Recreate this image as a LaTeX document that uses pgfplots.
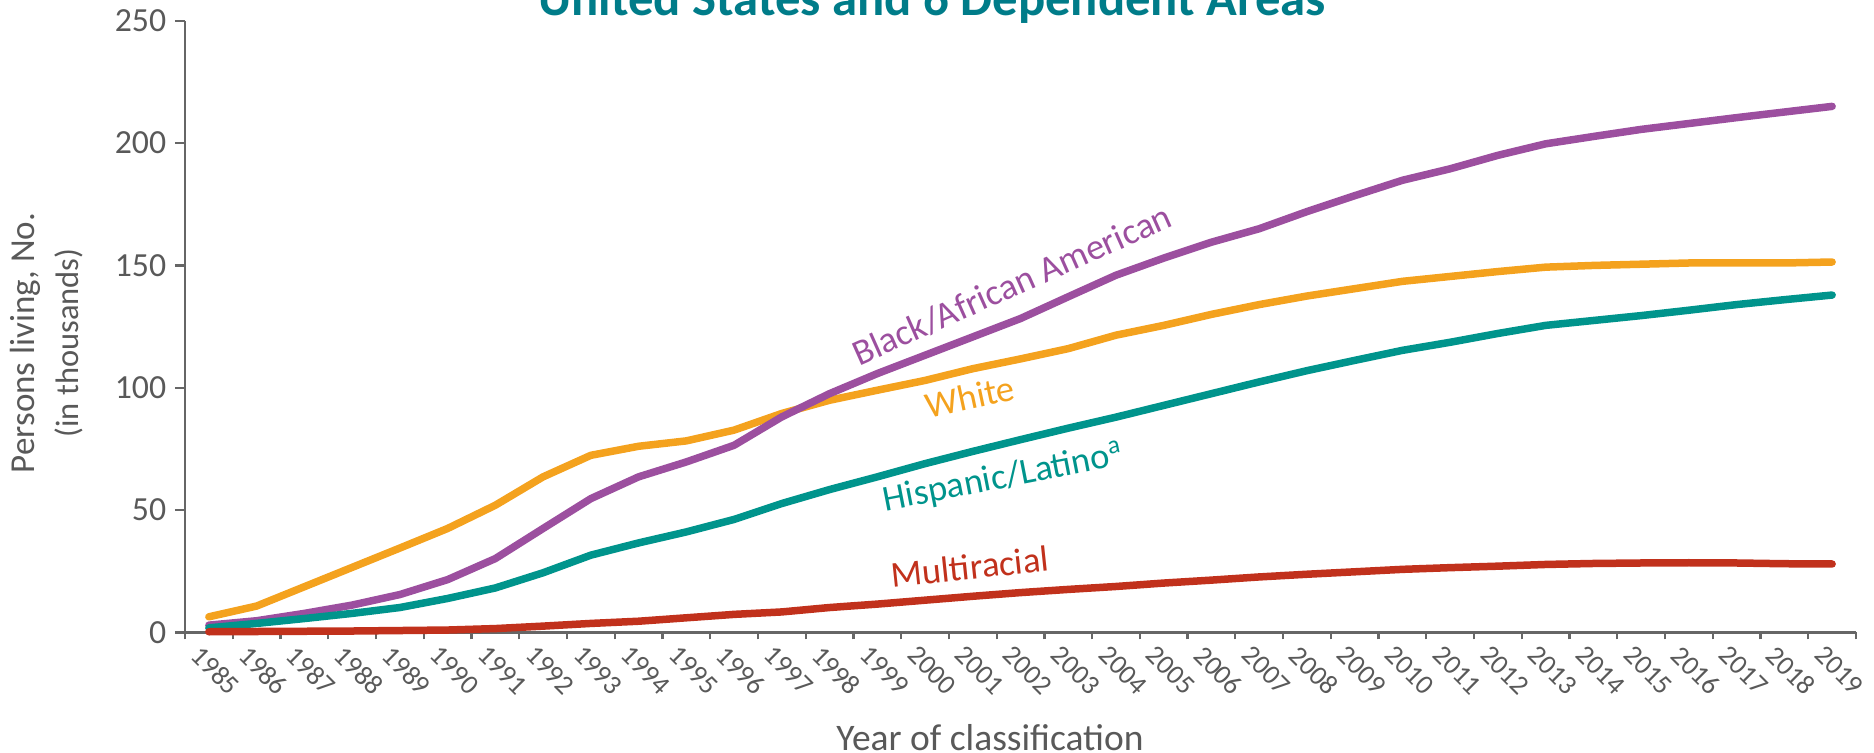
\documentclass[border=0pt]{standalone}
\usepackage{fontspec}
\setmainfont{Carlito}
\usepackage{pgfplots}
\usepackage{pgfplotstable}
\pgfplotsset{compat=1.18}
\definecolor{cBlack}{HTML}{9C4F9F}
\definecolor{cWhite}{HTML}{F4A21E}
\definecolor{cHisp}{HTML}{00948C}
\definecolor{cMulti}{HTML}{C1311C}
\definecolor{titlecol}{HTML}{007C89}
\definecolor{axisgray}{HTML}{666666}
\definecolor{labelgray}{HTML}{595959}

\pgfplotstableread{
x black white hisp multi
0 3.0 6.4 1.9 0.3
1 4.8 10.8 3.7 0.4
2 7.8 18.7 5.7 0.5
3 11.2 26.6 7.8 0.6
4 15.5 34.5 10.2 0.8
5 21.6 42.5 13.9 1.0
6 30.2 52.0 18.2 1.6
7 42.5 63.6 24.4 2.6
8 54.7 72.4 31.6 3.7
9 63.6 76.1 36.6 4.6
10 69.7 78.3 41.1 6.0
11 76.5 82.7 46.2 7.4
12 88.1 89.5 52.7 8.4
13 97.6 94.9 58.4 10.2
14 105.8 99.0 63.6 11.6
15 113.3 103.0 69.0 13.2
16 120.8 107.8 74.0 14.8
17 128.3 111.8 78.8 16.3
18 137.2 116.0 83.5 17.6
19 146.0 121.5 88.0 18.8
20 153.0 125.5 92.8 20.2
21 159.5 130.0 97.6 21.4
22 165.0 134.0 102.4 22.7
23 172.0 137.5 107.0 23.8
24 178.5 140.5 111.2 24.8
25 184.8 143.5 115.3 25.8
26 189.5 145.5 118.6 26.5
27 195.0 147.5 122.2 27.1
28 199.7 149.3 125.5 27.8
29 202.7 150.0 127.5 28.2
30 205.6 150.5 129.5 28.4
31 208.0 151.0 131.7 28.5
32 210.4 151.0 134.0 28.4
33 212.7 151.0 136.0 28.1
34 215.0 151.4 137.9 28.0
}\datatable

\begin{document}
\begin{tikzpicture}
\begin{axis}[
  at={(74pt,48.2pt)}, anchor=south west,
  scale only axis, width=668.4pt, height=244.7pt,
  xmin=-0.5, xmax=34.5, ymin=0, ymax=250,
  axis lines*=left,
  axis line style={draw=axisgray, line width=0.9pt},
  xtick={0,...,34},
  xticklabel={\pgfmathtruncatemacro{\yr}{\tick+1985}\yr},
  minor xtick={-0.5,0.5,...,34.5},
  major x tick style={draw=none},
  minor x tick style={draw=axisgray, line width=0.9pt},
  ytick={0,50,...,250},
  ytick style={draw=axisgray, line width=0.9pt},
  tick align=outside,
  major tick length=4pt,
  minor tick length=2.8pt,
  tick label style={text=labelgray},
  yticklabel style={font=\fontsize{13.5}{15}\selectfont},
  xticklabel style={font=\fontsize{11}{13}\selectfont, rotate=-45, anchor=north west, inner sep=0pt, xshift=-1.5pt, yshift=-2pt},
  /pgf/number format/assume math mode=true,
  clip=false,
  every axis plot/.append style={line width=3pt, line join=round, line cap=round, mark=none},
]
\addplot[cWhite] table[x=x, y=white] {\datatable};
\addplot[cBlack] table[x=x, y=black] {\datatable};
\addplot[cHisp] table[x=x, y=hisp] {\datatable};
\addplot[cMulti] table[x=x, y=multi] {\datatable};

\node[rotate=24, text=cBlack, font=\fontsize{14.6}{16}\selectfont] at (axis cs:16.82,142) {Black/African American};
\node[rotate=12, text=cWhite, font=\fontsize{14.6}{16}\selectfont] at (axis cs:15.94,96.3) {White};
\node[rotate=11, text=cHisp, font=\fontsize{14.6}{16}\selectfont] at (axis cs:16.64,63) {Hispanic/Latino\textsuperscript{a}};
\node[rotate=6, text=cMulti, font=\fontsize{14.6}{16}\selectfont] at (axis cs:15.94,26.9) {Multiracial};
\end{axis}
\node[font=\bfseries\fontsize{20.3}{24}\selectfont, text=titlecol, anchor=base] at (372.8pt,295pt) {United States and 6 Dependent Areas};
\node[font=\fontsize{15}{18}\selectfont, text=labelgray, anchor=base] at (396pt,1pt) {Year of classification};
\node[rotate=90, font=\fontsize{14}{16}\selectfont, text=labelgray] at (10pt,164pt) {Persons living, No.};
\node[rotate=90, font=\fontsize{13}{16}\selectfont, text=labelgray] at (27.5pt,164pt) {(in thousands)};
\pgfresetboundingbox
\useasboundingbox (0,0) rectangle (749.6pt,301.2pt);
\end{tikzpicture}
\end{document}
